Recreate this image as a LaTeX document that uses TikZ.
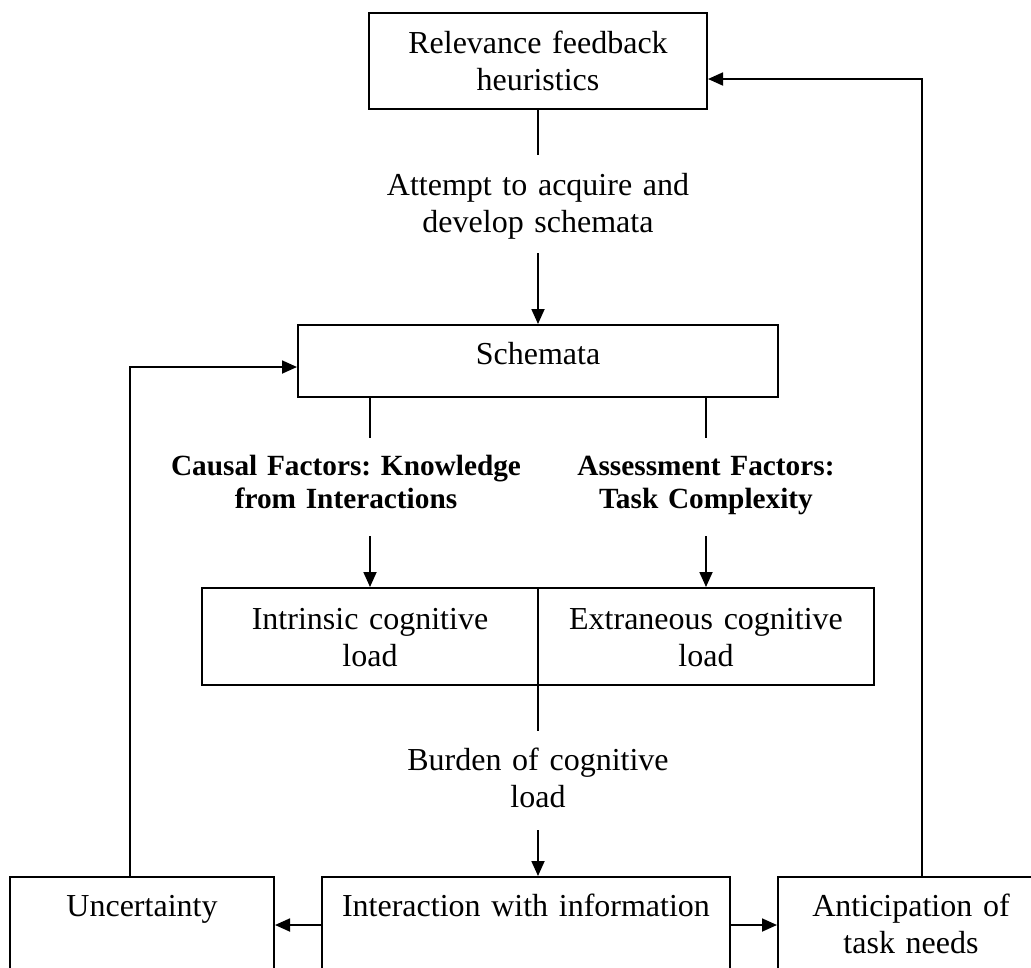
\documentclass[tikz,border=0pt]{standalone}
\usepackage{fontspec}
\setmainfont{Liberation Serif}
\usepackage{tikz}
\usetikzlibrary{arrows.meta}
\usetikzlibrary{calc, positioning}
\tikzset{boxed/.style={draw, line width=2pt}}
\tikzset{link/.style={line width=1.8pt}}
\tikzset{arr/.style={line width=1.8pt, -{Triangle[length=15pt, width=13pt]}}}
\tikzset{factor/.style={font=\fontsize{29.3}{33.7}\selectfont\bfseries}}
\frenchspacing

\begin{document}
\begin{tikzpicture}[x=1pt, y=-1pt]
	% Default action for each node
	\tikzstyle{every node}=[anchor=north, inner sep=0pt, align=center, font=\fontsize{32}{37}\selectfont];

	\useasboundingbox (0,0) rectangle (1031,967);

	% TOP
	\node[boxed, text width=338pt, text height=40pt, text depth=56pt] (relev) at (538,12) {Relevance feedback\\heuristics};
	\node[text width=320pt, text height=40pt, text depth=58pt] (attempt) at (538,155) {Attempt to acquire and\\develop schemata};
	\node[boxed, text width=480pt, text height=39pt, text depth=33pt] (schem) at (538,324) {Schemata};

	% MIDDLE
	\node[factor, text width=360pt, text height=37pt, text depth=61pt] (causal) at (346,438) {Causal Factors: Knowledge\\from Interactions};
	\node[factor, text width=300pt, text height=37pt, text depth=61pt] (assess) at (706,438) {Assessment Factors:\\Task Complexity};
	\node[boxed, text width=336pt, text height=41pt, text depth=56pt] (intr) at (370,587) {Intrinsic cognitive\\load};
	\node[boxed, text width=336pt, text height=41pt, text depth=56pt] (extr) at (706,587) {Extraneous cognitive\\load};
	\node[text width=300pt, text height=39pt, text depth=60pt] (burden) at (538,731) {Burden of cognitive\\load};

	% BOTTOM
	\node[boxed, text width=264pt, text height=39pt, text depth=57pt] (unc) at (142,876) {Uncertainty};
	\node[boxed, text width=408pt, text height=39pt, text depth=57pt] (inter) at (526,876) {Interaction with information};
	\node[boxed, text width=266pt, text height=39pt, text depth=57pt] (antic) at (911,876) {Anticipation of\\task needs};

	% feedback corners
	\coordinate (lbend) at (130,367);
	\coordinate (rbend) at (922,79);

	% Verticals
	\draw[link] (relev.south) -- (attempt.north);
	\draw[arr] (attempt.south) -- (schem.north);

	\draw[link] (schem.south -| intr) -- (causal.north -| intr);
	\draw[arr] (causal.south -| intr) -- (intr);

	\draw[link] (schem.south -| extr) -- (assess.north -| extr);
	\draw[arr] (assess.south -| extr) -- (extr);

	\draw[link] (burden.north |- intr.south) -- (burden.north);
	\draw[arr] (burden.south) -- (burden.south |- inter.north);

	% Horizontals
	\draw[arr] (inter.west) -- (unc.east);
	\draw[arr] (inter.east) -- (antic.west);

	% Feedback loops
	\draw[arr] (unc.north -| lbend) -- (lbend) -- (lbend -| schem.west);
	\draw[arr] (antic.north -| rbend) -- (rbend) -- (rbend -| relev.east);
\end{tikzpicture}
\end{document}
